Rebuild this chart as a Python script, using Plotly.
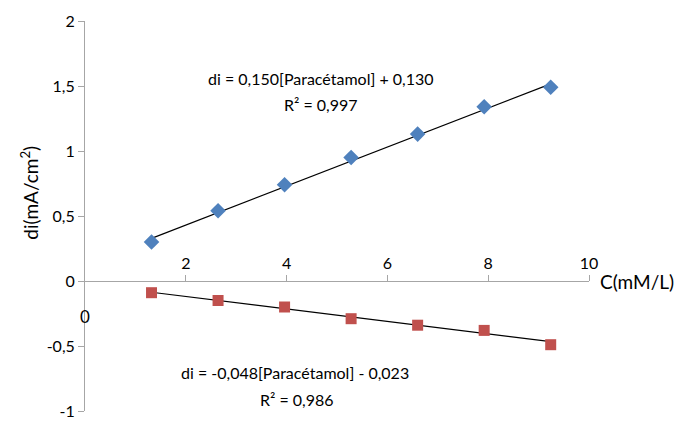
import plotly.graph_objects as go

# Concentrations (mM/L) and current differences (mA/cm2)
conc = [1.32, 2.64, 3.96, 5.28, 6.60, 7.92, 9.24]
di_pos = [0.30, 0.54, 0.74, 0.95, 1.13, 1.34, 1.49]
di_neg = [-0.09, -0.15, -0.20, -0.29, -0.34, -0.38, -0.49]

# Linear fits shown on the chart: slope, intercept, R²
fit_pos = (0.150, 0.130, 0.997)
fit_neg = (-0.048, -0.023, 0.986)

x_ticks = [2, 4, 6, 8, 10]
x_tick_text = ["2", "4", "6", "8", "10"]
y_ticks = [-1, -0.5, 0, 0.5, 1, 1.5, 2]
y_tick_text = ["-1", "-0,5", "0", "0,5", "1", "1,5", "2"]

FONT = "Lato"
BLUE = "#4F81BD"
RED = "#C0504D"
AXIS = "#A6A6A6"

fig = go.Figure()

# Trend lines from the fitted equations
for slope, icpt, _ in (fit_pos, fit_neg):
    xs = [conc[0], conc[-1]]
    fig.add_trace(go.Scatter(x=xs, y=[slope * v + icpt for v in xs], mode="lines",
                             line=dict(color="black", width=1.2), showlegend=False,
                             hoverinfo="skip"))

fig.add_trace(go.Scatter(x=conc, y=di_pos, mode="markers", showlegend=False,
                         marker=dict(symbol="diamond", size=12, color=BLUE,
                                     line=dict(width=0))))
fig.add_trace(go.Scatter(x=conc, y=di_neg, mode="markers", showlegend=False,
                         marker=dict(symbol="square", size=11, color=RED,
                                     line=dict(width=0))))


def fmt(v):
    return f"{abs(v):.3f}".replace(".", ",")


eq_pos = f"di = {fmt(fit_pos[0])}[Paracétamol] + {fmt(fit_pos[1])}"
r2_pos = f"R² = {fmt(fit_pos[2])}"
eq_neg = f"di = -{fmt(fit_neg[0])}[Paracétamol] - {fmt(fit_neg[1])}"
r2_neg = f"R² = {fmt(fit_neg[2])}"

ann_font = dict(family=FONT, size=16, color="black")
annotations = [
    dict(x=4.68, y=1.56, text=eq_pos),
    dict(x=4.68, y=1.36, text=r2_pos),
    dict(x=4.17, y=-0.70, text=eq_neg),
    dict(x=4.21, y=-0.91, text=r2_neg),
    dict(x=0, y=-0.27, text="0", font=dict(family=FONT, size=17, color="black")),
]
for a in annotations:
    a.setdefault("font", ann_font)
    a.update(xref="x", yref="y", showarrow=False, xanchor="center", yanchor="middle")

annotations.append(dict(x=1.018, y=0, xref="paper", yref="y", text="C(mM/L)",
                        showarrow=False, xanchor="left", yanchor="middle",
                        font=dict(family=FONT, size=19, color="black")))
annotations.append(dict(x=-0.109, y=0.56, xref="paper", yref="paper",
                        text="di(mA/cm<sup>2</sup>)", textangle=-90, showarrow=False,
                        xanchor="center", yanchor="middle",
                        font=dict(family=FONT, size=19, color="black")))

fig.update_layout(
    width=678, height=421,
    margin=dict(l=85, r=89, t=21, b=10),
    paper_bgcolor="white", plot_bgcolor="white",
    annotations=annotations,
    xaxis=dict(range=[0, 10], anchor="free", position=1/3, side="top",
               tickvals=x_ticks, ticktext=x_tick_text, ticks="outside", ticklen=6,
               tickcolor=AXIS, showline=True, linecolor=AXIS, linewidth=1,
               showgrid=False, zeroline=False, ticklabeloverflow="allow",
               automargin=False,
               tickfont=dict(family=FONT, size=16, color="black")),
    yaxis=dict(range=[-1, 2], tickvals=y_ticks, ticktext=y_tick_text,
               ticks="outside", ticklen=6, tickcolor=AXIS, showline=True,
               linecolor=AXIS, linewidth=1, showgrid=False, zeroline=False,
               ticklabeloverflow="allow", automargin=False,
               tickfont=dict(family=FONT, size=16, color="black")),
)

fig.write_html("out.html")
